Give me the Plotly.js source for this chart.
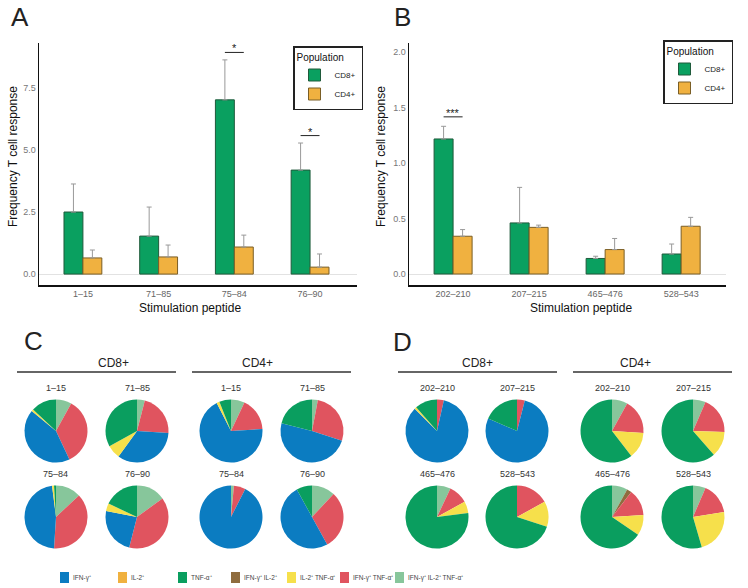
<!DOCTYPE html>
<html>
<head>
<meta charset="utf-8">
<script src="https://cdn.plot.ly/plotly-3.0.1.min.js"></script>
<style>
  body { margin: 0; background: #fff; }
  #chart { width: 748px; height: 588px; }
</style>
</head>
<body>
<div id="chart"></div>
<script>
// Panel A / B bar data (upper error tips)
const peptidesA = ["1–15", "71–85", "75–84", "76–90"];
const cd8A = [2.5, 1.53, 7.02, 4.19];
const cd8TopA = [3.63, 2.7, 8.63, 5.28];
const cd4A = [0.65, 0.69, 1.09, 0.28];
const cd4TopA = [0.97, 1.17, 1.57, 0.81];

const peptidesB = ["202–210", "207–215", "465–476", "528–543"];
const cd8B = [1.216, 0.46, 0.14, 0.18];
const cd8TopB = [1.33, 0.78, 0.16, 0.27];
const cd4B = [0.34, 0.42, 0.22, 0.43];
const cd4TopB = [0.4, 0.44, 0.32, 0.51];

const sigA = [["75–84", "*"], ["76–90", "*"]];
const sigB = [["202–210", "***"]];

// Pie data: slices in clockwise drawing order, values in %
const cytoLabels = ["IFN-γ⁺ IL-2⁺ TNF-α⁺", "IFN-γ⁺ IL-2⁺", "IFN-γ⁺ TNF-α⁺", "IFN-γ⁺", "IL-2⁺ TNF-α⁺", "TNF-α⁺", "IL-2⁺"];
const cytoColors = ["#87c69b", "#8f6c3e", "#e0545f", "#0b7cc1", "#f6e04b", "#0a9e5f", "#f0b13f"];
// legend order at the bottom
const legendOrder = ["IFN-γ⁺", "IL-2⁺", "TNF-α⁺", "IFN-γ⁺ IL-2⁺", "IL-2⁺ TNF-α⁺", "IFN-γ⁺ TNF-α⁺", "IFN-γ⁺ IL-2⁺ TNF-α⁺"];

const pieC_CD8 = [
  [8, 0, 35, 43, 1, 13, 0],
  [4, 0, 22, 34, 7, 33, 0],
  [13, 0, 38, 47, 1, 1, 0],
  [15, 0, 39, 24, 4, 18, 0],
];
const pieC_CD4 = [
  [7, 0, 17, 68.5, 1.5, 6, 0],
  [3, 0, 27, 49, 0, 21, 0],
  [1.5, 0, 6, 92.5, 0, 0, 0],
  [12, 0, 30, 50, 0, 8, 0],
];
const pieD_CD8 = [
  [0, 0, 3.5, 84, 1, 11.5, 0],
  [0, 0, 4, 77.5, 0, 18.5, 0],
  [7, 0, 10, 0, 6, 77, 0],
  [0, 0, 17, 0, 13, 70, 0],
];
const pieD_CD4 = [
  [8, 0, 18, 0, 13.5, 60.5, 0],
  [6.5, 0, 19, 0, 13, 61.5, 0],
  [8, 2.5, 13.5, 0, 10.5, 65.5, 0],
  [6.5, 0, 16, 0, 23, 54.5, 0],
];

const W = 748, H = 588;
const FONT = "Liberation Sans, Arial, sans-serif";
const GREEN = "#0aa060", ORANGE = "#f0b140";
const px = (x) => x / W;
const py = (y) => 1 - y / H;

function barTrace(name, xs, vals, tops, color, edge, axis, legend) {
  return {
    type: "bar",
    name: name,
    x: xs,
    y: vals,
    xaxis: "x" + axis,
    yaxis: "y" + axis,
    legend: legend,
    marker: { color: color, line: { color: edge, width: 1 } },
    error_y: {
      type: "data",
      symmetric: false,
      array: tops.map((t, i) => t - vals[i]),
      arrayminus: vals.map(() => 0),
      color: "#999",
      thickness: 1,
      width: 2.5,
    },
  };
}

const traces = [
  barTrace("CD8+", peptidesA, cd8A, cd8TopA, GREEN, "#1f5a3b", "", "legend"),
  barTrace("CD4+", peptidesA, cd4A, cd4TopA, ORANGE, "#7a5e26", "", "legend"),
  barTrace("CD8+", peptidesB, cd8B, cd8TopB, GREEN, "#1f5a3b", "2", "legend2"),
  barTrace("CD4+", peptidesB, cd4B, cd4TopB, ORANGE, "#7a5e26", "2", "legend2"),
];

// pies
const annotations = [];
const shapes = [];
const R = 31.5;
const rowsY = [431, 517];
const labelY = [388, 474];
function addPies(values, peptides, colXs) {
  values.forEach((vals, i) => {
    const cx = colXs[i % 2], cy = rowsY[Math.floor(i / 2)];
    traces.push({
      type: "pie",
      labels: cytoLabels,
      values: vals,
      sort: false,
      direction: "clockwise",
      rotation: 0,
      textinfo: "none",
      hoverinfo: "label+percent",
      showlegend: false,
      marker: { colors: cytoColors, line: { width: 0 } },
      domain: { x: [px(cx - R), px(cx + R)], y: [py(cy + R), py(cy - R)] },
    });
    annotations.push({
      text: peptides[i], x: px(cx), y: py(labelY[Math.floor(i / 2)]),
      xref: "paper", yref: "paper", xanchor: "center", yanchor: "middle", showarrow: false,
      font: { size: 9, color: "#333" },
    });
  });
}
const pepC = ["1–15", "71–85", "75–84", "76–90"];
const pepD = ["202–210", "207–215", "465–476", "528–543"];
addPies(pieC_CD8, pepC, [56, 137]);
addPies(pieC_CD4, pepC, [231, 312]);
addPies(pieD_CD8, pepD, [437, 517]);
addPies(pieD_CD4, pepD, [612, 693]);

// bottom key for the cytokine colours (swatch + label)
const keyX = [60, 118, 178, 231, 287, 340, 395];
legendOrder.forEach((lab, i) => {
  shapes.push({
    type: "rect", xref: "paper", yref: "paper",
    x0: px(keyX[i]), x1: px(keyX[i] + 9), y0: py(583), y1: py(572),
    fillcolor: cytoColors[cytoLabels.indexOf(lab)], line: { width: 0 },
  });
  annotations.push({
    text: lab, x: px(keyX[i] + 11), y: py(577.5), xref: "paper", yref: "paper",
    xanchor: "left", yanchor: "middle", showarrow: false,
    font: { size: 6.5, color: "#444" },
  });
});

// significance brackets
function addSig(list, peptides, tops8, tops4, axis, pad) {
  list.forEach(([pep, label]) => {
    const i = peptides.indexOf(pep);
    const y = Math.max(tops8[i], tops4[i]) + pad;
    shapes.push({
      type: "line", xref: "x" + axis, yref: "y" + axis,
      x0: i - 0.125, x1: i + 0.125, y0: y, y1: y,
      line: { color: "#222", width: 1 },
    });
    annotations.push({
      text: label, xref: "x" + axis, yref: "y" + axis, x: i, y: y,
      yanchor: "bottom", showarrow: false, yshift: -4,
      font: { size: 11, color: "#222" },
    });
  });
}
addSig(sigA, peptidesA, cd8TopA, cd4TopA, "", 0.3);
addSig(sigB, peptidesB, cd8TopB, cd4TopB, "2", 0.085);

// panel letters
[["A", 9, 17], ["B", 392, 17], ["C", 22, 341], ["D", 391, 342]].forEach(([t, x, y]) => {
  annotations.push({
    text: t, x: px(x), y: py(y), xref: "paper", yref: "paper",
    xanchor: "left", yanchor: "middle", showarrow: false,
    font: { size: 26, color: "#222" },
  });
});

// axis titles
[[13, 157, -90, "Frequency T cell response"], [381, 157, -90, "Frequency T cell response"],
 [190, 308, 0, "Stimulation peptide"], [581, 308, 0, "Stimulation peptide"]].forEach(([x, y, a, t]) => {
  annotations.push({
    text: t, x: px(x), y: py(y), xref: "paper", yref: "paper",
    xanchor: "center", yanchor: "middle",
    showarrow: false, textangle: a, font: { size: 12, color: "#111" },
  });
});

// population headers over the pie groups
[[96, 17, 176, "CD8+"], [240, 192, 351, "CD4+"], [477, 398, 557, "CD8+"], [653, 573, 732, "CD4+"]].forEach(([cx, x0, x1, t]) => {
  annotations.push({
    text: t, x: px(cx), y: py(363), xref: "paper", yref: "paper",
    yanchor: "middle", showarrow: false, font: { size: 12, color: "#222" },
  });
  shapes.push({
    type: "line", xref: "paper", yref: "paper",
    x0: px(x0), x1: px(x1), y0: py(372), y1: py(372),
    line: { color: "#333", width: 1.5 },
  });
});

const yDom = [py(285), py(43)];
function xAxis(dom, range) {
  return {
    domain: dom, range: range, type: "category",
    showline: true, linecolor: "#111", linewidth: 1.5,
    showgrid: false, zeroline: false, ticks: "",
    tickfont: { size: 9, color: "#666" }, fixedrange: true,
  };
}
function yAxis(anchor, range, dtick) {
  return {
    domain: yDom, range: range, anchor: anchor,
    showline: true, linecolor: "#111", linewidth: 1.5,
    showgrid: false, zeroline: true, zerolinecolor: "#e2e2e2", zerolinewidth: 1,
    ticks: "", dtick: dtick, tick0: 0, tickformat: ".1f",
    tickfont: { size: 9, color: "#777" }, fixedrange: true,
  };
}

const legendStyle = (x, y) => ({
  x: x, y: y, xanchor: "left", yanchor: "top",
  bordercolor: "#222", borderwidth: 1.5, bgcolor: "#fff",
  title: { text: "Population", font: { size: 10, color: "#111" } },
  font: { size: 8, color: "#222" },
  tracegroupgap: 0, itemwidth: 30,
});

const layout = {
  width: W, height: H, autosize: false,
  margin: { l: 0, r: 0, t: 0, b: 0 },
  paper_bgcolor: "#fff", plot_bgcolor: "#fff",
  font: { family: FONT, color: "#222" },
  barmode: "group", bargap: 0.5, bargroupgap: 0,
  xaxis: xAxis([px(39), px(357)], [-0.58, 3.62]),
  yaxis: yAxis("x", [-0.44, 9.31], 2.5),
  xaxis2: xAxis([px(409), px(726)], [-0.58, 3.59]),
  yaxis2: yAxis("x2", [-0.099, 2.08], 0.5),
  legend: legendStyle(px(293), py(46)),
  legend2: legendStyle(px(663), py(40)),
  annotations: annotations,
  shapes: shapes,
  showlegend: true,
};

Plotly.newPlot("chart", traces, layout, { displayModeBar: false, staticPlot: true });
</script>
</body>
</html>
